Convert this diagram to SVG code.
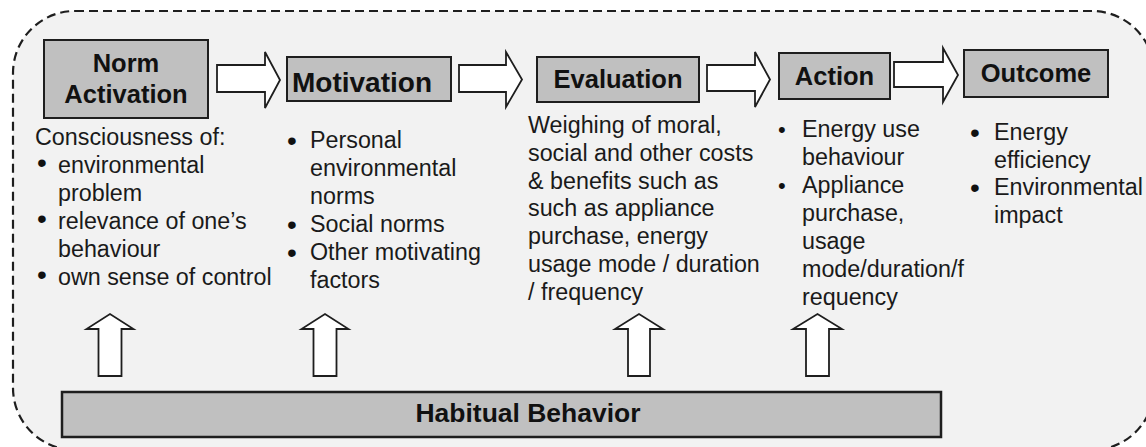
<svg xmlns="http://www.w3.org/2000/svg" width="1146" height="447" viewBox="0 0 1146 447">
  <style>
    .frame { fill: #f2f2f2; stroke: #1e1e1e; stroke-width: 2.2; stroke-dasharray: 9 5; }
    .box { fill: #c0c0c0; stroke: #1e1e1e; stroke-width: 2; }
    .arrow { fill: #ffffff; stroke: #1e1e1e; stroke-width: 1.8; stroke-linejoin: miter; }
    .title { font-family: "Liberation Sans", Arial, sans-serif; font-weight: bold; font-size: 25.5px; fill: #111; text-anchor: middle; }
    .body { font-family: "Liberation Sans", Arial, sans-serif; font-size: 23.3px; fill: #1a1a1a; }
    .bul { font-family: "Liberation Sans", Arial, sans-serif; font-size: 28px; fill: #111; }
    .bul-s { font-family: "Liberation Sans", Arial, sans-serif; font-size: 22px; fill: #111; }
  </style>

  <rect x="0" y="0" width="1146" height="447" fill="#ffffff"/>
  <!-- dashed outer boundary -->
  <rect class="frame" x="13" y="11" width="1141" height="439" rx="62" ry="62"/>

  <!-- connectors -->
  <g id="connectors">
    <path class="arrow" d="M217,65 H265 V52 L280,80 L265,108 V92 H217 Z"/>
    <path class="arrow" d="M459,65 H506 V52 L522,79.5 L506,107 V92 H459 Z"/>
    <path class="arrow" d="M707,65 H755 V52 L770,79.5 L755,107 V91 H707 Z"/>
    <path class="arrow" d="M894,62 H943 V48 L958,75 L943,102 V87 H894 Z"/>
    <path class="arrow" d="M98.5,376 V329 H86.5 L110,314 L133.5,329 H121.5 V376 Z"/>
    <path class="arrow" d="M313.5,376 V329 H301.5 L325,314 L348.5,329 H336.5 V376 Z"/>
    <path class="arrow" d="M628,376 V329 H615 L639,314 L663,329 H650 V376 Z"/>
    <path class="arrow" d="M806,376 V329 H793 L817.5,314 L842,329 H829 V376 Z"/>
  </g>

  <g id="norm-activation">
    <rect class="box" x="44" y="40" width="164" height="78"/>
    <text class="title" x="126" y="72">Norm</text>
    <text class="title" x="126" y="103">Activation</text>
    <text class="body" x="35" y="145">Consciousness of:</text>
    <text class="bul" x="37" y="172">•</text>
    <text class="body" x="58" y="173">environmental</text>
    <text class="body" x="58" y="201">problem</text>
    <text class="bul" x="37" y="228">•</text>
    <text class="body" x="58" y="229">relevance of one’s</text>
    <text class="body" x="58" y="257">behaviour</text>
    <text class="bul" x="37" y="284">•</text>
    <text class="body" x="58" y="285">own sense of control</text>
  </g>

  <g id="motivation">
    <rect class="box" x="287" y="57" width="164" height="44"/>
    <text class="title" x="362" y="92" style="font-size:28px">Motivation</text>
    <text class="bul" x="287" y="150">•</text>
    <text class="body" x="310" y="148">Personal</text>
    <text class="body" x="310" y="176">environmental</text>
    <text class="body" x="310" y="204">norms</text>
    <text class="bul" x="287" y="234">•</text>
    <text class="body" x="310" y="232">Social norms</text>
    <text class="bul" x="287" y="262">•</text>
    <text class="body" x="310" y="260">Other motivating</text>
    <text class="body" x="310" y="288">factors</text>
  </g>

  <g id="evaluation">
    <rect class="box" x="537" y="57" width="162" height="45"/>
    <text class="title" x="618" y="88">Evaluation</text>
    <text class="body" x="528" y="133">Weighing of moral,</text>
    <text class="body" x="528" y="161">social and other costs</text>
    <text class="body" x="528" y="188.5">&amp; benefits such as</text>
    <text class="body" x="528" y="216">such as appliance</text>
    <text class="body" x="528" y="244">purchase, energy</text>
    <text class="body" x="528" y="272">usage mode / duration</text>
    <text class="body" x="528" y="300">/ frequency</text>
  </g>

  <g id="action">
    <rect class="box" x="779" y="53" width="111" height="46"/>
    <text class="title" x="834.5" y="85">Action</text>
    <text class="bul-s" x="778" y="137">•</text>
    <text class="body" x="802" y="137">Energy use</text>
    <text class="body" x="802" y="165">behaviour</text>
    <text class="bul-s" x="778" y="193">•</text>
    <text class="body" x="802" y="193">Appliance</text>
    <text class="body" x="802" y="221">purchase,</text>
    <text class="body" x="802" y="249">usage</text>
    <text class="body" x="802" y="277">mode/duration/f</text>
    <text class="body" x="802" y="305">requency</text>
  </g>

  <g id="outcome">
    <rect class="box" x="964" y="50" width="144" height="47"/>
    <text class="title" x="1036" y="82">Outcome</text>
    <text class="bul" x="970" y="142">•</text>
    <text class="body" x="994" y="140">Energy</text>
    <text class="body" x="994" y="167.5">efficiency</text>
    <text class="bul" x="970" y="197">•</text>
    <text class="body" x="994" y="195">Environmental</text>
    <text class="body" x="994" y="222.5">impact</text>
  </g>

  <g id="habitual-behavior">
    <rect class="box" x="62" y="392" width="879" height="45" style="stroke-width:2.5"/>
    <text class="title" x="528" y="422" textLength="225" lengthAdjust="spacingAndGlyphs" style="font-size:25px">Habitual Behavior</text>
  </g>
</svg>
